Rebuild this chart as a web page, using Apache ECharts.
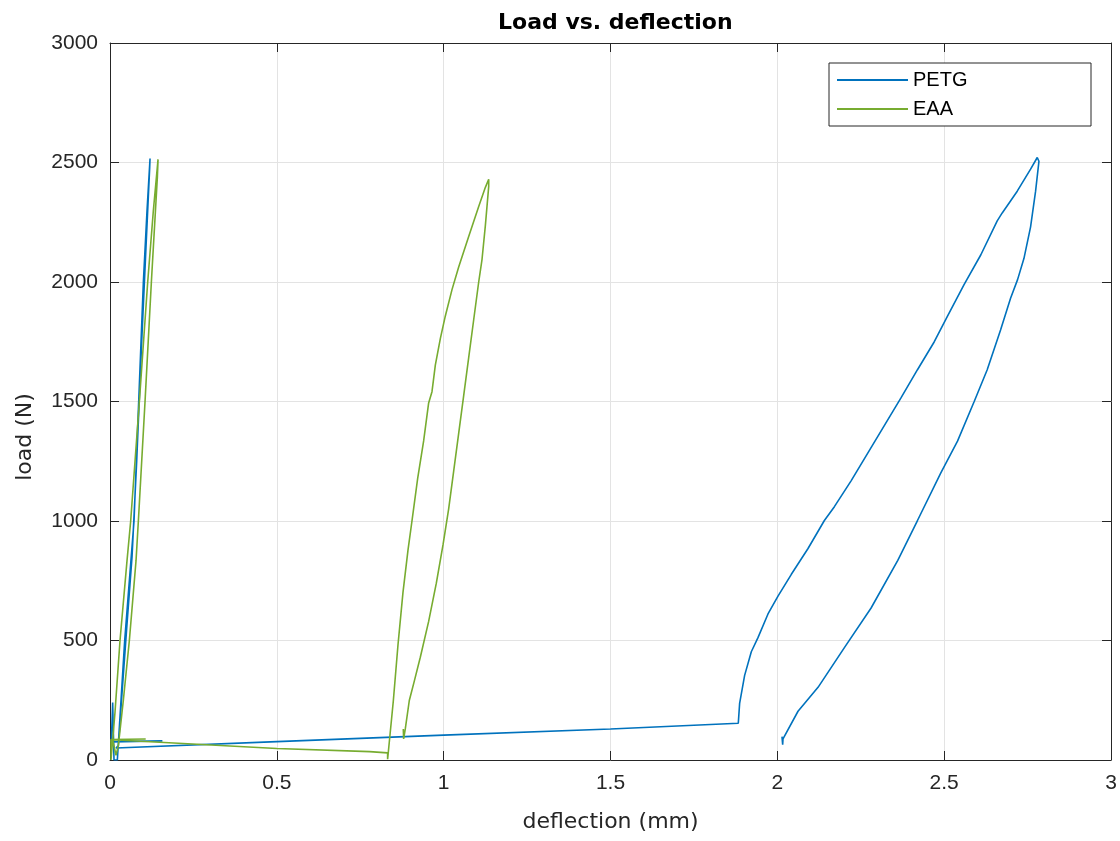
<!DOCTYPE html>
<html>
<head>
<meta charset="utf-8">
<script src="https://cdn.jsdelivr.net/npm/echarts@6/dist/echarts.min.js"></script>
<style>
html,body{margin:0;padding:0;background:#fff;}
#chart{width:1120px;height:841px;}
</style>
</head>
<body>
<div id="chart"></div>
<script>
// ---- data (deflection in mm, load in N) ----
const seriesNames = ["PETG", "EAA"];
const xTicks = [0, 0.5, 1, 1.5, 2, 2.5, 3];
const yTicks = [0, 500, 1000, 1500, 2000, 2500, 3000];

const petgX = [
  0.157, 0.004, 0.008, 0.012, 0.022, 0.033, 0.044, 0.058, 0.072, 0.086, 0.100, 0.111, 0.120,
  0.119, 0.108, 0.095, 0.080, 0.066, 0.050, 0.036, 0.025, 0.018,
  0.500, 1.000, 1.500, 1.883,
  1.887, 1.902, 1.922, 1.942, 1.972, 2.002, 2.042, 2.092, 2.141, 2.171, 2.221, 2.271, 2.321,
  2.371, 2.420, 2.470, 2.510, 2.560, 2.610, 2.659, 2.674, 2.719, 2.759, 2.779, 2.784,
  2.784, 2.774, 2.759, 2.739, 2.720, 2.699, 2.669, 2.629, 2.590, 2.540, 2.490, 2.420, 2.361,
  2.281, 2.201, 2.122, 2.062, 2.017, 2.016, 2.014
];
const petgY = [
  80, 76, 240, 0, 0, 250, 500, 750, 1000, 1500, 2000, 2300, 2517,
  2480, 2150, 1750, 1250, 850, 550, 280, 60, 50,
  77, 104, 130, 154,
  237, 354, 453, 512, 611, 686, 777, 885, 1002, 1060, 1168, 1284, 1400,
  1516, 1633, 1749, 1857, 1990, 2114, 2256, 2289, 2380, 2472, 2521, 2521,
  2505, 2380, 2231, 2098, 2010, 1932, 1799, 1633, 1500, 1334, 1201, 1002, 835,
  636, 470, 304, 204, 88, 64, 98
];

const eaaX = [
  0.107, 0.003, 0.003, 0.005, 0.015, 0.030, 0.051, 0.062, 0.088, 0.113, 0.130, 0.144,
  0.142, 0.124, 0.105, 0.085, 0.078, 0.058, 0.040, 0.025, 0.018, 0.008,
  0.500, 0.778, 0.832, 0.832,
  0.849, 0.863, 0.878, 0.893, 0.905, 0.922, 0.940, 0.955, 0.965, 0.975, 0.990, 1.005,
  1.025, 1.045, 1.075, 1.105, 1.125, 1.135, 1.140,
  1.135, 1.125, 1.115, 1.105, 1.090, 1.075, 1.060, 1.045, 1.030, 1.015, 0.998, 0.978,
  0.955, 0.930, 0.912, 0.897, 0.885, 0.880, 0.879
];
const eaaY = [
  88, 86, 0, 0, 200, 500, 834, 1000, 1500, 2000, 2300, 2513,
  2440, 2000, 1500, 1000, 834, 500, 250, 60, 20, 85,
  48, 35, 30, 3,
  246, 480, 700, 877, 1000, 1177, 1335, 1494, 1541, 1652, 1763, 1858,
  1968, 2063, 2190, 2316, 2396, 2430, 2427,
  2400, 2237, 2095, 2000, 1842, 1684, 1525, 1367, 1209, 1051, 900, 740,
  580, 430, 330, 249, 130, 88, 130
];

const colors = ["#0072BD", "#77AC30"];
const NAME_FONT = "DejaVu Sans";
const TICK_FONT = "Liberation Sans";
const AXIS_COLOR = "#262626";

function pairs(xs, ys) { return xs.map((x, i) => [x, ys[i]]); }
function plain(v) { return String(v); }

const chart = echarts.init(document.getElementById('chart'), null, {renderer: 'canvas'});

const baseAxis = {
  type: 'value',
  axisLine: {show: true, onZero: false, lineStyle: {color: AXIS_COLOR, width: 1}},
  axisTick: {show: true, inside: true, length: 9, lineStyle: {color: AXIS_COLOR, width: 1}},
};

const option = {
  animation: false,
  backgroundColor: '#ffffff',
  title: {
    text: 'Load vs. deflection',
    left: 493, top: 7,
    textStyle: {fontFamily: NAME_FONT, fontSize: 22, fontWeight: 'bold', color: '#000'}
  },
  grid: {left: 110, right: 9, top: 43, bottom: 81, containLabel: false},
  xAxis: [
    Object.assign({}, baseAxis, {
      position: 'bottom', min: xTicks[0], max: xTicks[xTicks.length - 1], interval: 0.5,
      name: 'deflection (mm)', nameLocation: 'middle', nameGap: 51,
      nameTextStyle: {fontFamily: NAME_FONT, fontSize: 22, color: AXIS_COLOR},
      axisLabel: {fontFamily: TICK_FONT, fontSize: 21, color: AXIS_COLOR, margin: 13, formatter: plain},
      splitLine: {show: true, lineStyle: {color: '#e3e3e3', width: 1}}
    }),
    Object.assign({}, baseAxis, {
      position: 'top', min: xTicks[0], max: xTicks[xTicks.length - 1], interval: 0.5,
      axisLabel: {show: false}, splitLine: {show: false}
    })
  ],
  yAxis: [
    Object.assign({}, baseAxis, {
      position: 'left', min: yTicks[0], max: yTicks[yTicks.length - 1], interval: 500,
      axisLabel: {fontFamily: TICK_FONT, fontSize: 21, color: AXIS_COLOR, margin: 12, formatter: plain},
      splitLine: {show: true, lineStyle: {color: '#e3e3e3', width: 1}}
    }),
    Object.assign({}, baseAxis, {
      position: 'right', min: yTicks[0], max: yTicks[yTicks.length - 1], interval: 500,
      axisLabel: {show: false}, splitLine: {show: false}
    })
  ],
  graphic: [
    {
      type: 'rect', z: 50,
      shape: {x: 829, y: 63, width: 262, height: 63},
      style: {fill: '#ffffff', stroke: AXIS_COLOR, lineWidth: 1}
    },
    {
      type: 'text', z: 50, x: 25, y: 437, rotation: Math.PI / 2,
      style: {text: 'load (N)', font: '22px "DejaVu Sans"', fill: AXIS_COLOR,
              textAlign: 'center', textVerticalAlign: 'middle', align: 'center', verticalAlign: 'middle'}
    }
  ],
  legend: {
    z: 60,
    orient: 'vertical', left: 837, top: 69, padding: 0,
    itemWidth: 71, itemHeight: 2, itemGap: 7, icon: 'rect',
    textStyle: {fontFamily: TICK_FONT, fontSize: 20, color: '#000', lineHeight: 22},
    data: seriesNames
  },
  series: [
    {
      name: seriesNames[0], type: 'line', xAxisIndex: 0, yAxisIndex: 0,
      data: pairs(petgX, petgY), symbol: 'none', showSymbol: false,
      lineStyle: {color: colors[0], width: 1.6}, itemStyle: {color: colors[0]}
    },
    {
      name: seriesNames[1], type: 'line', xAxisIndex: 0, yAxisIndex: 0,
      data: pairs(eaaX, eaaY), symbol: 'none', showSymbol: false,
      lineStyle: {color: colors[1], width: 1.6}, itemStyle: {color: colors[1]}
    }
  ]
};
chart.setOption(option);
</script>
</body>
</html>
